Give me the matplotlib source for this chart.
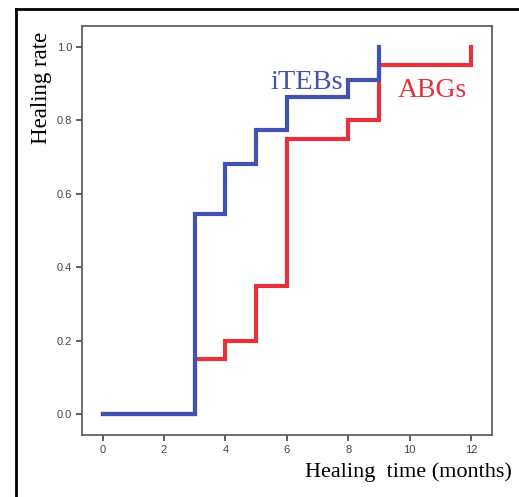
import matplotlib
matplotlib.use('Agg')
import matplotlib.pyplot as plt
from matplotlib.lines import Line2D

# step data (months, cumulative healing rate)
iteb_time = [0, 3, 4, 5, 6, 8, 9]
iteb_rate = [0.0, 0.545, 0.682, 0.773, 0.864, 0.909, 1.0]

abg_time = [0, 3, 4, 5, 6, 8, 9, 12]
abg_rate = [0.0, 0.15, 0.20, 0.35, 0.75, 0.80, 0.95, 1.0]

x_ticks = [0, 2, 4, 6, 8, 10, 12]
y_ticks = [0.0, 0.2, 0.4, 0.6, 0.8, 1.0]

blue = '#4252b0'
red = '#e5313a'
serif = 'Liberation Serif'

fig = plt.figure(figsize=(5.19, 4.97), dpi=100)
W, H = 519, 497
ax = fig.add_axes([82 / W, 1 - 435 / H, (492 - 82) / W, (435 - 26) / H])

ax.step(abg_time, abg_rate, where='post', color=red, lw=3.0, zorder=2,
        solid_joinstyle='miter')
ax.step(iteb_time, iteb_rate, where='post', color=blue, lw=3.0, zorder=3,
        solid_joinstyle='miter')

ax.set_xlim(-0.67, 12.68)
ax.set_ylim(-0.056, 1.057)
ax.set_xticks(x_ticks)
ax.set_yticks(y_ticks)
ax.set_xticklabels([str(t) for t in x_ticks])
ax.set_yticklabels(['%.1f' % t for t in y_ticks])
ax.tick_params(direction='out', length=4, width=1.2, colors='#444444',
               labelsize=8, pad=3)
for lab in ax.get_xticklabels() + ax.get_yticklabels():
    lab.set_fontfamily('Liberation Sans')
for sp in ax.spines.values():
    sp.set_color('#555555')
    sp.set_linewidth(1.2)

ax.text(5.45, 0.886, 'iTEBs', color=blue, fontsize=20.5, family=serif,
        ha='left', va='baseline')
ax.text(9.6, 0.865, 'ABGs', color=red, fontsize=20, family=serif,
        ha='left', va='baseline')

fig.text(42 / W, 1 - 88 / H, 'Healing rate', rotation=90, fontsize=16.5,
         family=serif, ha='center', va='center')
fig.text(512 / W, 1 - 472 / H, 'Healing  time (months)', fontsize=16,
         family=serif, ha='right', va='center')

# outer frame (top and left edges)
fig.add_artist(Line2D([16 / W, 16 / W], [0, 1 - 9 / H], color='black', lw=2,
                      transform=fig.transFigure))
fig.add_artist(Line2D([16 / W, 1], [1 - 9 / H, 1 - 9 / H], color='black', lw=2,
                      transform=fig.transFigure))

fig.savefig('out.png', dpi=100)
